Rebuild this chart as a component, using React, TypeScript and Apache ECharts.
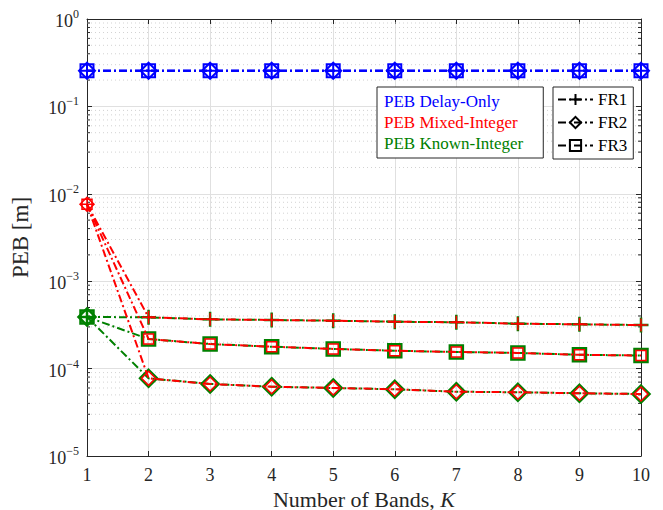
import React, { useEffect, useRef } from "react";
import * as echarts from "echarts";

// ---------- data ----------
const K = [1, 2, 3, 4, 5, 6, 7, 8, 9, 10];

const delayFR1 = [0.256, 0.256, 0.256, 0.256, 0.256, 0.256, 0.256, 0.256, 0.256, 0.256];
const delayFR2 = [0.256, 0.256, 0.256, 0.256, 0.256, 0.256, 0.256, 0.256, 0.256, 0.256];
const delayFR3 = [0.256, 0.256, 0.256, 0.256, 0.256, 0.256, 0.256, 0.256, 0.256, 0.256];

const mixedFR1 = [7.6e-3, 3.86e-4, 3.66e-4, 3.6e-4, 3.53e-4, 3.44e-4, 3.39e-4, 3.27e-4, 3.21e-4, 3.15e-4];
const mixedFR2 = [7.6e-3, 7.74e-5, 6.67e-5, 6.21e-5, 6.0e-5, 5.8e-5, 5.44e-5, 5.36e-5, 5.22e-5, 5.12e-5];
const mixedFR3 = [7.6e-3, 2.18e-4, 1.91e-4, 1.78e-4, 1.68e-4, 1.6e-4, 1.55e-4, 1.51e-4, 1.44e-4, 1.41e-4];

const knownFR1 = [3.9e-4, 3.86e-4, 3.66e-4, 3.6e-4, 3.53e-4, 3.44e-4, 3.39e-4, 3.27e-4, 3.21e-4, 3.15e-4];
const knownFR2 = [3.9e-4, 7.74e-5, 6.67e-5, 6.21e-5, 6.0e-5, 5.8e-5, 5.44e-5, 5.36e-5, 5.22e-5, 5.12e-5];
const knownFR3 = [3.9e-4, 2.18e-4, 1.91e-4, 1.78e-4, 1.68e-4, 1.6e-4, 1.55e-4, 1.51e-4, 1.44e-4, 1.41e-4];

const methodNames = ["PEB Delay-Only", "PEB Mixed-Integer", "PEB Known-Integer"];
const frNames = ["FR1", "FR2", "FR3"];

const Y_MIN = 1e-5;
const Y_MAX = 1;
const DECADES = [-5, -4, -3, -2, -1];
const MINOR_MULT = [2, 3, 4, 5, 6, 7, 8, 9];

// ---------- styles ----------
const FONT = "'Liberation Serif', 'DejaVu Serif', serif";
const AXIS_COLOR = "#262626";
const BLUE = "#0000ff";
const RED = "#ff0000";
const GREEN = "#008000";
const DASHDOT = [8, 3, 2, 3];

const PLUS = "path://M0,6L12,6M6,0L6,12";
const SYMBOLS = [PLUS, "diamond", "rect"];

const pairs = (vals: number[]) => K.map((k, i) => [k, vals[i]]);

function lineSeries(
  name: string,
  vals: number[],
  color: string,
  symIdx: number,
  size: number[],
  bw: number,
  z: number
) {
  return {
    name,
    type: "line",
    data: pairs(vals),
    z,
    symbol: SYMBOLS[symIdx],
    symbolSize: size[symIdx],
    symbolKeepAspect: true,
    showAllSymbol: true,
    lineStyle: { color, width: 2, type: DASHDOT },
    itemStyle: { color: "none", borderColor: color, borderWidth: bw },
    emphasis: { disabled: true },
    silent: true,
  };
}

const ticksLabel = (v: number) => {
  const e = Math.round(Math.log10(v));
  const s = e < 0 ? "\u2212" + -e : String(e);
  return `{b|10}{s|${s}}`;
};

export default function App() {
  const ref = useRef<HTMLDivElement>(null);

  useEffect(() => {
    if (!ref.current) return;
    const chart = echarts.init(ref.current, null, { renderer: "svg" });

    const minorValues: number[] = [];
    DECADES.forEach((d) => MINOR_MULT.forEach((m) => minorValues.push(m * Math.pow(10, d))));

    const series: any[] = [];
    // minor grid & minor ticks
    series.push({
      type: "custom",
      silent: true,
      z: 1,
      clip: false,
      data: minorValues.map((v) => [1, v]),
      encode: { x: 0, y: 1 },
      renderItem: (params: any, api: any) => {
        const y = api.coord([1, api.value(1)])[1];
        const cs = params.coordSys;
        const x0 = cs.x;
        const x1 = cs.x + cs.width;
        return {
          type: "group",
          children: [
            {
              type: "line",
              shape: { x1: x0, y1: y, x2: x1, y2: y },
              style: { stroke: "#d2d2d2", lineWidth: 1, lineDash: [1, 3] },
            },
            {
              type: "line",
              shape: { x1: x0, y1: y, x2: x0 + 3, y2: y },
              style: { stroke: AXIS_COLOR, lineWidth: 1 },
            },
            {
              type: "line",
              shape: { x1: x1 - 3, y1: y, x2: x1, y2: y },
              style: { stroke: AXIS_COLOR, lineWidth: 1 },
            },
          ],
        };
      },
    });

    const blueSize = [15, 16, 13];
    const greenSize = [15, 17, 13];
    const redSize = [13, 14, 10];
    const delay = [delayFR1, delayFR2, delayFR3];
    const known = [knownFR1, knownFR2, knownFR3];
    const mixed = [mixedFR1, mixedFR2, mixedFR3];
    delay.forEach((v, i) => series.push(lineSeries("Delay " + frNames[i], v, BLUE, i, blueSize, 2, 3)));
    known.forEach((v, i) => series.push(lineSeries("Known " + frNames[i], v, GREEN, i, greenSize, 2.5, 4)));
    mixed.forEach((v, i) => series.push(lineSeries("Mixed " + frNames[i], v, RED, i, redSize, 1.5, 5)));

    // legend-only series
    const methodColors = [BLUE, RED, GREEN];
    methodNames.forEach((n, i) =>
      series.push({
        name: n,
        type: "line",
        data: [],
        symbol: "none",
        color: methodColors[i],
        lineStyle: { opacity: 0 },
        itemStyle: { opacity: 0 },
      })
    );
    const legendSize = [13, 14, 11];
    frNames.forEach((n, i) =>
      series.push({
        name: n,
        type: "line",
        data: [],
        symbol: SYMBOLS[i],
        symbolSize: legendSize[i],
        symbolKeepAspect: true,
        color: "#000",
        lineStyle: { color: "#000", width: 2, type: DASHDOT },
        itemStyle: { color: "none", borderColor: "#000", borderWidth: 2 },
      })
    );

    const axisLine = { show: true, lineStyle: { color: AXIS_COLOR, width: 1 } };

    chart.setOption({
      animation: false,
      backgroundColor: "#fff",
      textStyle: { fontFamily: FONT },
      grid: {
        left: 87,
        right: 22,
        top: 19,
        bottom: 54,
        containLabel: false,
        outerBoundsMode: "none",
      },
      legend: [
        {
          show: true,
          orient: "vertical",
          left: 377,
          top: 87,
          data: methodNames.map((n, i) => ({
            name: n,
            icon: "rect",
            itemStyle: { opacity: 0 },
            textStyle: { color: methodColors[i] },
          })),
          icon: "rect",
          itemWidth: 1,
          itemHeight: 1,
          itemGap: 4,
          itemStyle: { opacity: 0 },
          padding: [6, 20, 6, 1],
          borderColor: AXIS_COLOR,
          borderWidth: 1,
          borderRadius: 0,
          backgroundColor: "#fff",
          selectedMode: false,
          textStyle: { fontFamily: FONT, fontSize: 17, lineHeight: 17 },
        },
        {
          show: true,
          orient: "vertical",
          left: 553,
          top: 87,
          data: frNames,
          itemWidth: 35,
          itemHeight: 14,
          itemGap: 6,
          padding: [4, 6, 5, 4],
          borderColor: AXIS_COLOR,
          borderWidth: 1,
          borderRadius: 0,
          backgroundColor: "#fff",
          selectedMode: false,
          textStyle: { fontFamily: FONT, fontSize: 17, color: "#000" },
        },
      ],
      xAxis: [
        {
          type: "value",
          min: 1,
          max: 10,
          interval: 1,
          position: "bottom",
          axisLine,
          axisTick: { show: true, inside: true, length: 5, lineStyle: { color: AXIS_COLOR } },
          axisLabel: { show: true, margin: 10, fontSize: 18, color: AXIS_COLOR, fontFamily: FONT },
          splitLine: { show: true, lineStyle: { color: "#e0e0e0", width: 1 } },
          name: "Number of Bands, {i|K}",
          nameLocation: "middle",
          nameGap: 27,
          nameTextStyle: {
            fontSize: 22,
            lineHeight: 18,
            color: AXIS_COLOR,
            fontFamily: FONT,
            rich: {
              i: { fontStyle: "italic", fontSize: 22, lineHeight: 18, fontFamily: FONT, color: AXIS_COLOR },
            },
          },
        },
        {
          type: "value",
          min: 1,
          max: 10,
          interval: 1,
          position: "top",
          axisLine,
          axisTick: { show: true, inside: true, length: 5, lineStyle: { color: AXIS_COLOR } },
          axisLabel: { show: false },
          splitLine: { show: false },
        },
      ],
      yAxis: [
        {
          type: "log",
          logBase: 10,
          min: Y_MIN,
          max: Y_MAX,
          position: "left",
          axisLine,
          axisTick: { show: true, inside: true, length: 5, lineStyle: { color: AXIS_COLOR } },
          axisLabel: {
            show: true,
            margin: 8,
            color: AXIS_COLOR,
            formatter: ticksLabel,
            rich: {
              b: { fontSize: 18, fontFamily: FONT, color: AXIS_COLOR, lineHeight: 22, verticalAlign: "bottom" },
              s: { fontSize: 12, fontFamily: FONT, color: AXIS_COLOR, lineHeight: 12, verticalAlign: "top" },
            },
          },
          splitLine: { show: true, lineStyle: { color: "#e0e0e0", width: 1 } },
          name: "PEB [m]",
          nameLocation: "middle",
          nameGap: 55,
          nameRotate: 90,
          nameTextStyle: { fontSize: 23, color: AXIS_COLOR, fontFamily: FONT },
        },
        {
          type: "log",
          logBase: 10,
          min: Y_MIN,
          max: Y_MAX,
          position: "right",
          axisLine,
          axisTick: { show: true, inside: true, length: 5, lineStyle: { color: AXIS_COLOR } },
          axisLabel: { show: false },
          splitLine: { show: false },
        },
      ],
      series,
    });

    return () => chart.dispose();
  }, []);

  return (
    <div
      ref={ref}
      style={{ position: "fixed", left: 0, top: 0, width: 663, height: 510, background: "#fff" }}
    />
  );
}
